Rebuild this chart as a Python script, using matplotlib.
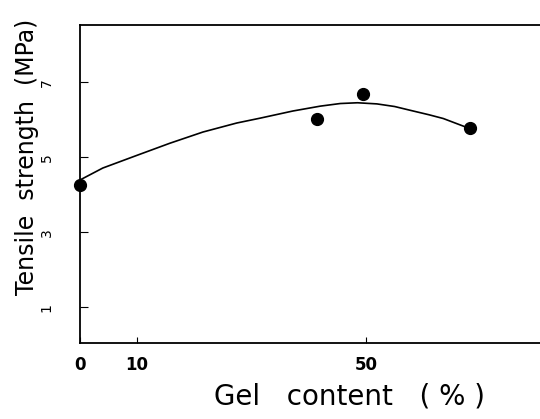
import numpy as np
import matplotlib
matplotlib.use("Agg")
import matplotlib.pyplot as plt

# measured points
gel = [0, 41.5, 49.5, 68.1]
strength = [4.25, 6.01, 6.68, 5.77]

# hand drawn fit curve
curve_x = [0, 2, 4, 7, 10, 15.7, 21.5, 27.4, 31.5, 37.2, 42, 45.5, 48.5, 51.9, 55, 57.7, 61, 63.5, 67.3, 68.1]
curve_y = [4.39, 4.55, 4.71, 4.88, 5.05, 5.37, 5.67, 5.91, 6.04, 6.23, 6.36, 6.43, 6.45, 6.42, 6.35,
           6.25, 6.13, 6.03, 5.81, 5.77]

xticks = [0, 10, 50]
yticks = [1, 3, 5, 7]

fig = plt.figure(figsize=(5.4, 4.19), dpi=100)
ax = fig.add_axes([0.148, 0.181, 0.852, 0.759])

ax.plot(curve_x, curve_y, color="black", lw=1.2, solid_capstyle="round")
ax.plot(gel, strength, "o", color="black", ms=8.5, clip_on=False, zorder=3)

ax.set_xlim(0, 80.4)
ax.set_ylim(0.04, 8.52)

ax.spines["right"].set_visible(False)
for s in ["left", "top", "bottom"]:
    ax.spines[s].set_linewidth(1.3)

ax.set_xticks(xticks)
ax.set_xticklabels([str(t) for t in xticks], fontsize=12, fontweight="bold")
ax.tick_params(axis="x", direction="in", length=4, width=0.8, pad=9)

ax.set_yticks(yticks)
ax.set_yticklabels([str(t) for t in yticks], fontsize=10, rotation=90, va="center")
ax.tick_params(axis="y", direction="in", length=6, width=0.8, pad=19)

ax.set_ylabel("Tensile  strength  (MPa)", fontsize=17)
ax.yaxis.set_label_coords(-0.09, 0.585)
ax.set_xlabel("Gel   content   ( % )", fontsize=20)
ax.xaxis.set_label_coords(0.587, -0.125)

fig.savefig("out.png", dpi=100)
